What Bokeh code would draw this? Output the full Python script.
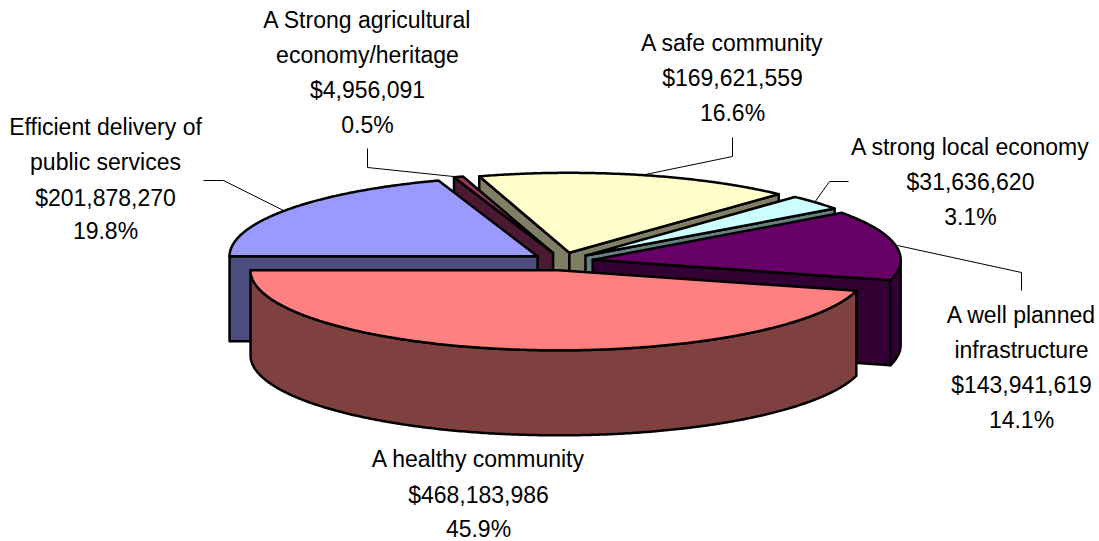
import math
from bokeh.plotting import figure
from bokeh.models import Range1d
from bokeh.core.properties import value
from bokeh.embed import file_html
from bokeh.resources import INLINE

names = [["Efficient delivery of", "public services"],
         ["A Strong agricultural", "economy/heritage"],
         ["A safe community"],
         ["A strong local economy"],
         ["A well planned", "infrastructure"],
         ["A healthy community"]]
amounts = [201878270, 4956091, 169621559, 31636620, 143941619, 468183986]
top_colors = ["#9999FF", "#993366", "#FFFFCC", "#CCFFFF", "#660066", "#FF8080"]
side_colors = ["#4C4C7F", "#4C1933", "#7F7F66", "#667F7F", "#330033", "#7F4040"]
label_x = [105, 367, 732, 970, 1021, 478]
label_y = [[126, 161, 197, 230], [19, 54, 89, 124], [42, 77, 112],
           [146, 181, 216], [314, 349, 384, 419], [458, 494, 528]]
leaders = [[(203, 180), (223, 180), (283, 210)],
           [(367, 148), (367, 167), (453, 176)],
           [(732, 137), (732, 156), (640, 175)],
           [(848, 181), (829, 181), (814, 202)],
           [(897, 245), (1021, 272), (1021, 290)]]

CX, CY, RX, RY, DEPTH, EX, EY = 562.0, 261.0, 308.0, 80.0, 85.0, 30.7, 8.9
FIRST_ANGLE = 270.0
FONT = "Liberation Sans"
FONT_PX = "23px"

p = figure(width=1099, height=541, x_range=Range1d(0, 1099), y_range=Range1d(541, 0),
           output_backend="svg", toolbar_location=None, min_border=0,
           outline_line_color=None, background_fill_color="white",
           border_fill_color="white")
p.axis.visible = False
p.grid.visible = False

def pt(ox, oy, a, dy=0.0):
    r = math.radians(a)
    return ox + RX * math.sin(r), oy - RY * math.cos(r) + dy

def arc(ox, oy, a0, a1, dy=0.0):
    n = max(2, int(abs(a1 - a0)) * 2 + 2)
    return [pt(ox, oy, a0 + (a1 - a0) * i / (n - 1), dy) for i in range(n)]

total = sum(amounts)
slices = []
angle = FIRST_ANGLE
for amt, top, side in zip(amounts, top_colors, side_colors):
    a0 = angle
    a1 = angle + amt / total * 360.0
    angle = a1
    mid = math.radians((a0 + a1) / 2)
    slices.append((CY - EY * math.cos(mid), CX + EX * math.sin(mid), a0, a1, top, side))

xs, ys, fills = [], [], []

def add(points, color):
    xs.append([q[0] for q in points])
    ys.append([q[1] for q in points])
    fills.append(color)

# painter's order: the slices whose apex sits highest on the page go first
for oy, ox, a0, a1, top, side in sorted(slices, key=lambda s: s[0]):
    n0, n1 = a0 % 360, a1 % 360
    if n0 >= 180:
        e = pt(ox, oy, a0)
        add([(ox, oy), e, (e[0], e[1] + DEPTH), (ox, oy + DEPTH)], side)
    if 0 < n1 < 180:
        e = pt(ox, oy, a1)
        add([(ox, oy), e, (e[0], e[1] + DEPTH), (ox, oy + DEPTH)], side)
    for turn in (0.0, 360.0):
        lo, hi = max(a0, 90.0 + turn), min(a1, 270.0 + turn)
        if lo < hi:
            add(arc(ox, oy, lo, hi) + arc(ox, oy, hi, lo, DEPTH), side)
    add([(ox, oy)] + arc(ox, oy, a0, a1), top)

for line in leaders:
    p.line([q[0] for q in line], [q[1] for q in line], line_color="#000000", line_width=1)

p.patches(xs, ys, fill_color=fills, line_color="#000000", line_width=2.5, line_join="round")

tx, ty, tt = [], [], []
for nm, amt, lx, lys in zip(names, amounts, label_x, label_y):
    lines = nm + [f"${amt:,}", f"{amt / total * 100:.1f}%"]
    for s, ly in zip(lines, lys):
        tx.append(lx); ty.append(ly); tt.append(s)
p.text(tx, ty, text=tt, text_align="center", text_baseline="middle",
       text_font=value(FONT), text_font_size=value(FONT_PX), text_color="#000000")

open("out.html", "w").write(file_html(p, INLINE))
